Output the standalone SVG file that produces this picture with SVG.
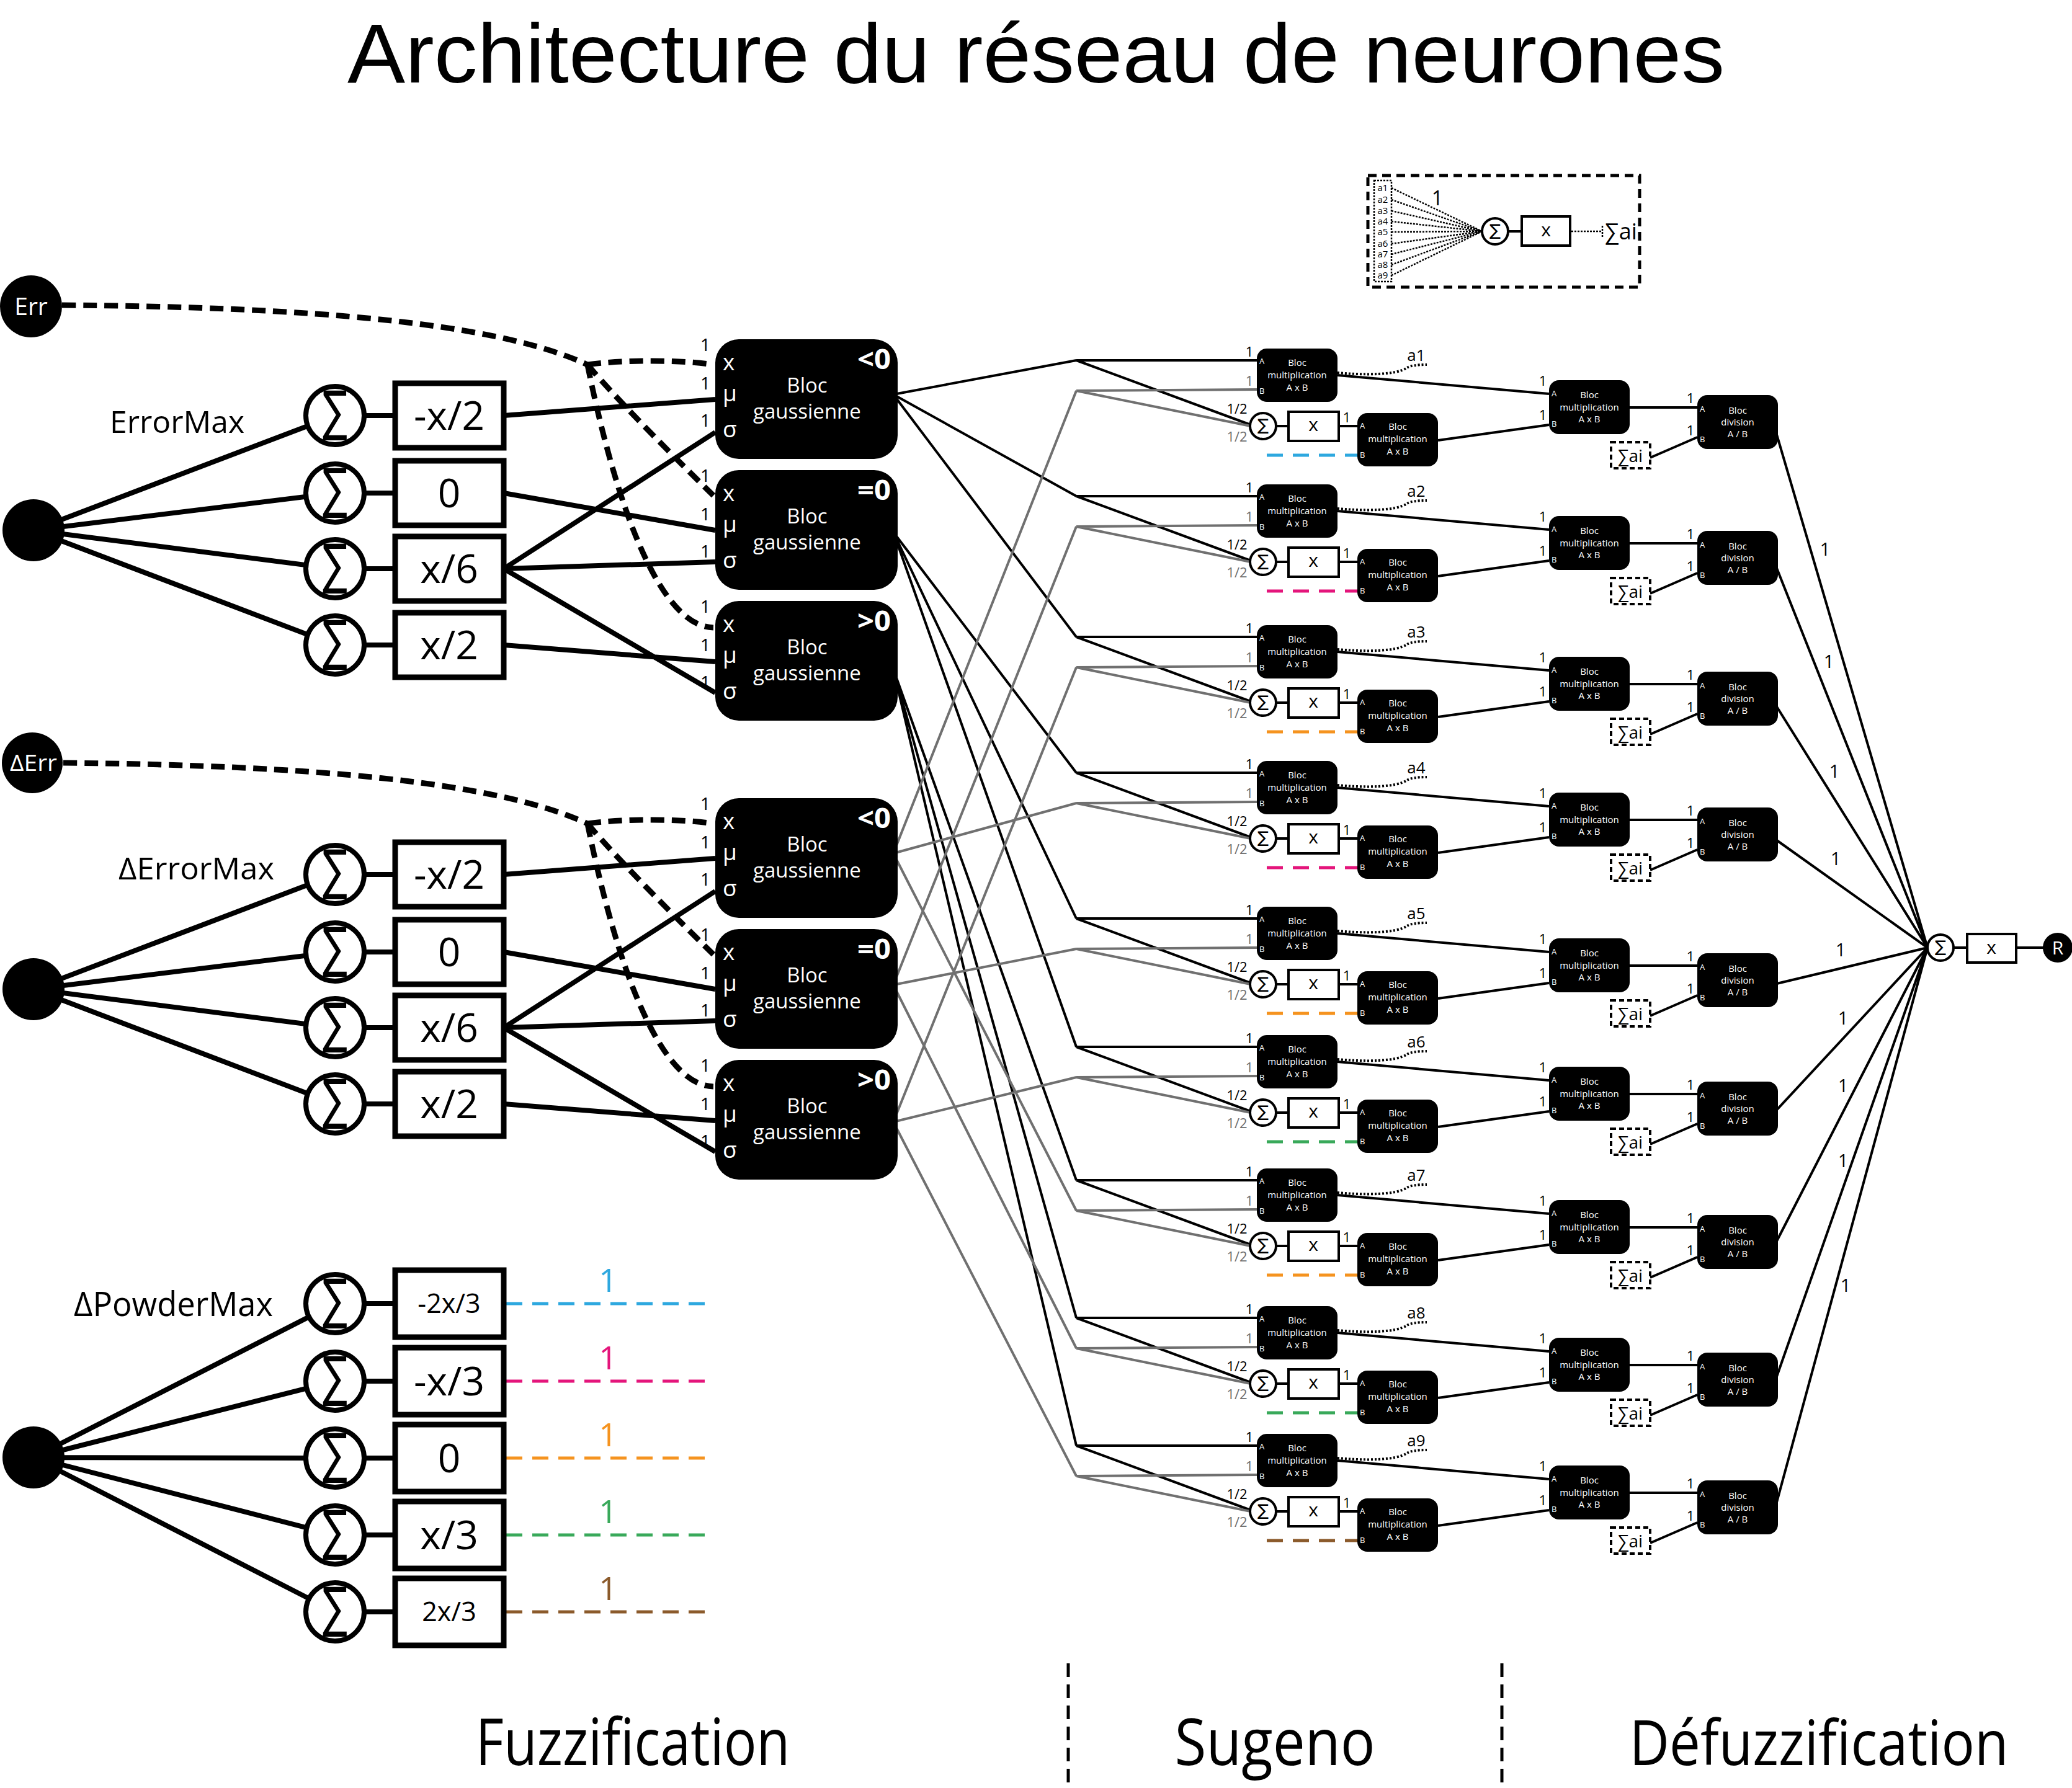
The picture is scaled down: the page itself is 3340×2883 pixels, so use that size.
<svg xmlns="http://www.w3.org/2000/svg" width="3340" height="2883" viewBox="0 0 3340 2883">
<style>
text{font-family:'Open Sans','Liberation Sans','DejaVu Sans',sans-serif;fill:#000}
text.ttl{font-family:'Liberation Sans','Open Sans',sans-serif}
.bs{font-family:'DejaVu Sans',sans-serif;font-size:88px;text-anchor:middle}
.ss2{font-family:'DejaVu Sans',sans-serif;font-size:26px;text-anchor:middle}
.k8{stroke:#000;stroke-width:8;fill:none}
.k4{stroke:#000;stroke-width:4;fill:none}
.g4{stroke:#707070;stroke-width:4;fill:none}
.dsh{stroke:#000;stroke-width:9;fill:none;stroke-dasharray:22 12}
.dot{stroke:#000;stroke-width:4;fill:none;stroke-dasharray:3 3}
.ldot{stroke:#000;stroke-width:2.5;fill:none;stroke-dasharray:3 2}
.cd{stroke-width:5;fill:none;stroke-dasharray:26 16}
.sc{fill:#fff;stroke:#000;stroke-width:8}
.bx{fill:#fff;stroke:#000;stroke-width:9}
.ss{fill:#fff;stroke:#000;stroke-width:4}
.blk{fill:#000}
text.w{fill:#fff}
.bt{font-size:64px;text-anchor:middle}
.gl{font-size:37px}
.gt{font-size:33px;text-anchor:middle}
.gn{font-size:28px;text-anchor:end}
.gs{font-size:44px;font-weight:bold;text-anchor:end}
text.a{font-size:13px;fill:#fff}
text.m{font-size:15px;fill:#fff;text-anchor:middle}
.l{font-size:22px;text-anchor:middle}
text.lg{fill:#707070}
.al{font-size:26px;text-anchor:middle}
.sa{font-size:28px;text-anchor:middle}
.sab{fill:#fff;stroke:#000;stroke-width:4;stroke-dasharray:8 5}
</style>

<text class="ttl" x="1670" y="133" font-size="136" text-anchor="middle" textLength="2220" lengthAdjust="spacingAndGlyphs">Architecture du réseau de neurones</text>

<g id="connectors">
  <!-- section 1 -->
  <path class="k8" d="M54,855L540,670M54,855L540,795M54,855L540,917M54,855L540,1040M587,670H637M587,795H637M587,917H637M587,1040H637"/>
  <path class="k8" d="M812,670L1153,644M812,795L1153,855M812,917L1153,697M812,917L1153,906M812,917L1153,1117M812,1040L1153,1067"/>
  <path class="dsh" d="M100,492C500,495 800,520 947,588M947,588C1000,580 1100,580 1150,588M947,588C1000,650 1080,730 1150,799M947,588C990,800 1060,1010 1150,1012"/>
  <!-- section 2 -->
  <path class="k8" d="M54,1595L540,1410M54,1595L540,1535M54,1595L540,1657M54,1595L540,1780M587,1410H637M587,1535H637M587,1657H637M587,1780H637"/>
  <path class="k8" d="M812,1410L1153,1384M812,1535L1153,1595M812,1657L1153,1437M812,1657L1153,1646M812,1657L1153,1857M812,1780L1153,1807"/>
  <path class="dsh" d="M102,1230C500,1234 800,1260 947,1328M947,1328C1000,1320 1100,1320 1150,1328M947,1328C1000,1390 1080,1470 1150,1539M947,1328C990,1540 1060,1750 1150,1752"/>
  <!-- section 3 -->
  <path class="k8" d="M54,2350L540,2102M54,2350L540,2227M54,2350L540,2351M54,2350L540,2475M54,2350L540,2599M587,2102H637M587,2227H637M587,2351H637M587,2475H637M587,2599H637"/>
  <path class="cd" stroke="#2ea8df" d="M816,2102H1152"/>
  <path class="cd" stroke="#e4157b" d="M816,2227H1152"/>
  <path class="cd" stroke="#f5931f" d="M816,2351H1152"/>
  <path class="cd" stroke="#39a95a" d="M816,2475H1152"/>
  <path class="cd" stroke="#8b5a2b" d="M816,2599H1152"/>
  <text x="980" y="2083" font-size="52" text-anchor="middle" style="fill:#2ea8df">1</text>
  <text x="980" y="2208" font-size="52" text-anchor="middle" style="fill:#e4157b">1</text>
  <text x="980" y="2332" font-size="52" text-anchor="middle" style="fill:#f5931f">1</text>
  <text x="980" y="2456" font-size="52" text-anchor="middle" style="fill:#39a95a">1</text>
  <text x="980" y="2580" font-size="52" text-anchor="middle" style="fill:#8b5a2b">1</text>
  <!-- gaussian -> rules -->
  <path class="k4" d="M1440,636L1735,581M1440,636L1735,800M1440,636L1735,1027M1440,858L1735,1246M1440,858L1735,1481M1440,858L1735,1688M1440,1079L1735,1903M1440,1079L1735,2125M1440,1079L1735,2331"/>
  <path class="g4" d="M1440,1376L1735,630M1440,1376L1735,1295M1440,1376L1735,1952M1440,1588L1735,849M1440,1588L1735,1530M1440,1588L1735,2174M1440,1809L1735,1076M1440,1809L1735,1737M1440,1809L1735,2380"/>
  <!-- rules internal -->
  <g transform="translate(0,581)"><path class="k4" d="M1735,0H2026M1735,0L2016,104M2057,106H2077M2158,106H2188M2156,24L2497,54M2318,129L2497,104M2627,76H2736M2660,157L2736,124"/><path class="g4" d="M1735,49L2026,47M1735,49L2016,106"/><path class="cd" stroke="#2ea8df" d="M2042,153H2188"/><path class="dot" d="M2156,20C2200,24 2250,24 2268,12Q2276,7 2300,7"/></g>
  <g transform="translate(0,800)"><path class="k4" d="M1735,0H2026M1735,0L2016,104M2057,106H2077M2158,106H2188M2156,24L2497,54M2318,129L2497,104M2627,76H2736M2660,157L2736,124"/><path class="g4" d="M1735,49L2026,47M1735,49L2016,106"/><path class="cd" stroke="#e4157b" d="M2042,153H2188"/><path class="dot" d="M2156,20C2200,24 2250,24 2268,12Q2276,7 2300,7"/></g>
  <g transform="translate(0,1027)"><path class="k4" d="M1735,0H2026M1735,0L2016,104M2057,106H2077M2158,106H2188M2156,24L2497,54M2318,129L2497,104M2627,76H2736M2660,157L2736,124"/><path class="g4" d="M1735,49L2026,47M1735,49L2016,106"/><path class="cd" stroke="#f5931f" d="M2042,153H2188"/><path class="dot" d="M2156,20C2200,24 2250,24 2268,12Q2276,7 2300,7"/></g>
  <g transform="translate(0,1246)"><path class="k4" d="M1735,0H2026M1735,0L2016,104M2057,106H2077M2158,106H2188M2156,24L2497,54M2318,129L2497,104M2627,76H2736M2660,157L2736,124"/><path class="g4" d="M1735,49L2026,47M1735,49L2016,106"/><path class="cd" stroke="#e4157b" d="M2042,153H2188"/><path class="dot" d="M2156,20C2200,24 2250,24 2268,12Q2276,7 2300,7"/></g>
  <g transform="translate(0,1481)"><path class="k4" d="M1735,0H2026M1735,0L2016,104M2057,106H2077M2158,106H2188M2156,24L2497,54M2318,129L2497,104M2627,76H2736M2660,157L2736,124"/><path class="g4" d="M1735,49L2026,47M1735,49L2016,106"/><path class="cd" stroke="#f5931f" d="M2042,153H2188"/><path class="dot" d="M2156,20C2200,24 2250,24 2268,12Q2276,7 2300,7"/></g>
  <g transform="translate(0,1688)"><path class="k4" d="M1735,0H2026M1735,0L2016,104M2057,106H2077M2158,106H2188M2156,24L2497,54M2318,129L2497,104M2627,76H2736M2660,157L2736,124"/><path class="g4" d="M1735,49L2026,47M1735,49L2016,106"/><path class="cd" stroke="#39a95a" d="M2042,153H2188"/><path class="dot" d="M2156,20C2200,24 2250,24 2268,12Q2276,7 2300,7"/></g>
  <g transform="translate(0,1903)"><path class="k4" d="M1735,0H2026M1735,0L2016,104M2057,106H2077M2158,106H2188M2156,24L2497,54M2318,129L2497,104M2627,76H2736M2660,157L2736,124"/><path class="g4" d="M1735,49L2026,47M1735,49L2016,106"/><path class="cd" stroke="#f5931f" d="M2042,153H2188"/><path class="dot" d="M2156,20C2200,24 2250,24 2268,12Q2276,7 2300,7"/></g>
  <g transform="translate(0,2125)"><path class="k4" d="M1735,0H2026M1735,0L2016,104M2057,106H2077M2158,106H2188M2156,24L2497,54M2318,129L2497,104M2627,76H2736M2660,157L2736,124"/><path class="g4" d="M1735,49L2026,47M1735,49L2016,106"/><path class="cd" stroke="#39a95a" d="M2042,153H2188"/><path class="dot" d="M2156,20C2200,24 2250,24 2268,12Q2276,7 2300,7"/></g>
  <g transform="translate(0,2331)"><path class="k4" d="M1735,0H2026M1735,0L2016,104M2057,106H2077M2158,106H2188M2156,24L2497,54M2318,129L2497,104M2627,76H2736M2660,157L2736,124"/><path class="g4" d="M1735,49L2026,47M1735,49L2016,106"/><path class="cd" stroke="#8b5a2b" d="M2042,153H2188"/><path class="dot" d="M2156,20C2200,24 2250,24 2268,12Q2276,7 2300,7"/></g>
  <!-- defuzzification -->
  <path class="k4" d="M2860,687L3107,1528M2860,906L3107,1528M2860,1133L3107,1528M2860,1352L3107,1528M2860,1587L3107,1528M2860,1794L3107,1528M2860,2009L3107,1528M2860,2231L3107,1528M2860,2437L3107,1528M3149,1528H3171M3250,1528H3300"/>
  <text x="2942" y="896" font-size="29" text-anchor="middle">1</text>
  <text x="2948" y="1077" font-size="29" text-anchor="middle">1</text>
  <text x="2957" y="1254" font-size="29" text-anchor="middle">1</text>
  <text x="2959" y="1395" font-size="29" text-anchor="middle">1</text>
  <text x="2967" y="1542" font-size="29" text-anchor="middle">1</text>
  <text x="2971" y="1652" font-size="29" text-anchor="middle">1</text>
  <text x="2971" y="1761" font-size="29" text-anchor="middle">1</text>
  <text x="2971" y="1882" font-size="29" text-anchor="middle">1</text>
  <text x="2975" y="2083" font-size="29" text-anchor="middle">1</text>
</g>

<!-- Section 1 nodes -->
<g id="err"><circle class="blk" cx="50" cy="494" r="50"/><text class="w" x="50" y="508" font-size="39" text-anchor="middle">Err</text></g>
<g id="errmax"><circle class="blk" cx="54" cy="855" r="50"/><text x="177" y="698" font-size="50" textLength="217" lengthAdjust="spacingAndGlyphs">ErrorMax</text></g>
<g id="e-sum1"><circle class="sc" cx="540" cy="670" r="47"/><text class="bs" x="540" y="693" textLength="40" lengthAdjust="spacingAndGlyphs">∑</text></g>
<g id="e-sum2"><circle class="sc" cx="540" cy="795" r="47"/><text class="bs" x="540" y="818" textLength="40" lengthAdjust="spacingAndGlyphs">∑</text></g>
<g id="e-sum3"><circle class="sc" cx="540" cy="917" r="47"/><text class="bs" x="540" y="940" textLength="40" lengthAdjust="spacingAndGlyphs">∑</text></g>
<g id="e-sum4"><circle class="sc" cx="540" cy="1040" r="47"/><text class="bs" x="540" y="1063" textLength="40" lengthAdjust="spacingAndGlyphs">∑</text></g>
<g id="e-box1"><rect class="bx" x="637" y="618" width="175" height="104"/><text class="bt" x="724" y="693">-x/2</text></g>
<g id="e-box2"><rect class="bx" x="637" y="743" width="175" height="104"/><text class="bt" x="724" y="818">0</text></g>
<g id="e-box3"><rect class="bx" x="637" y="865" width="175" height="104"/><text class="bt" x="724" y="940">x/6</text></g>
<g id="e-box4"><rect class="bx" x="637" y="988" width="175" height="104"/><text class="bt" x="724" y="1063">x/2</text></g>
<g id="e-g1"><rect class="blk" x="1153" y="547" width="294" height="193" rx="38"/><text class="w gl" x="1165" y="597">x</text><text class="w gl" x="1165" y="647">μ</text><text class="w gl" x="1165" y="705">σ</text><text class="w gt" x="1301" y="633">Bloc</text><text class="w gt" x="1301" y="675">gaussienne</text><text class="w gs" x="1436" y="595" textLength="54" lengthAdjust="spacingAndGlyphs">&lt;0</text><text class="gn" x="1145" y="566">1</text><text class="gn" x="1145" y="628">1</text><text class="gn" x="1145" y="688">1</text></g>
<g id="e-g2"><rect class="blk" x="1153" y="758" width="294" height="193" rx="38"/><text class="w gl" x="1165" y="808">x</text><text class="w gl" x="1165" y="858">μ</text><text class="w gl" x="1165" y="916">σ</text><text class="w gt" x="1301" y="844">Bloc</text><text class="w gt" x="1301" y="886">gaussienne</text><text class="w gs" x="1436" y="806" textLength="54" lengthAdjust="spacingAndGlyphs">=0</text><text class="gn" x="1145" y="777">1</text><text class="gn" x="1145" y="839">1</text><text class="gn" x="1145" y="899">1</text></g>
<g id="e-g3"><rect class="blk" x="1153" y="969" width="294" height="193" rx="38"/><text class="w gl" x="1165" y="1019">x</text><text class="w gl" x="1165" y="1069">μ</text><text class="w gl" x="1165" y="1127">σ</text><text class="w gt" x="1301" y="1055">Bloc</text><text class="w gt" x="1301" y="1097">gaussienne</text><text class="w gs" x="1436" y="1017" textLength="54" lengthAdjust="spacingAndGlyphs">&gt;0</text><text class="gn" x="1145" y="988">1</text><text class="gn" x="1145" y="1050">1</text><text class="gn" x="1145" y="1110">1</text></g>

<!-- Section 2 nodes -->
<g id="derr"><circle class="blk" cx="52" cy="1230" r="49"/><text class="w" x="54" y="1243" font-size="36" text-anchor="middle" textLength="76" lengthAdjust="spacingAndGlyphs">ΔErr</text></g>
<g id="derrmax"><circle class="blk" cx="54" cy="1595" r="50"/><text x="191" y="1418" font-size="50" textLength="251" lengthAdjust="spacingAndGlyphs">ΔErrorMax</text></g>
<g id="d-sum1"><circle class="sc" cx="540" cy="1410" r="47"/><text class="bs" x="540" y="1433" textLength="40" lengthAdjust="spacingAndGlyphs">∑</text></g>
<g id="d-sum2"><circle class="sc" cx="540" cy="1535" r="47"/><text class="bs" x="540" y="1558" textLength="40" lengthAdjust="spacingAndGlyphs">∑</text></g>
<g id="d-sum3"><circle class="sc" cx="540" cy="1657" r="47"/><text class="bs" x="540" y="1680" textLength="40" lengthAdjust="spacingAndGlyphs">∑</text></g>
<g id="d-sum4"><circle class="sc" cx="540" cy="1780" r="47"/><text class="bs" x="540" y="1803" textLength="40" lengthAdjust="spacingAndGlyphs">∑</text></g>
<g id="d-box1"><rect class="bx" x="637" y="1358" width="175" height="104"/><text class="bt" x="724" y="1433">-x/2</text></g>
<g id="d-box2"><rect class="bx" x="637" y="1483" width="175" height="104"/><text class="bt" x="724" y="1558">0</text></g>
<g id="d-box3"><rect class="bx" x="637" y="1605" width="175" height="104"/><text class="bt" x="724" y="1680">x/6</text></g>
<g id="d-box4"><rect class="bx" x="637" y="1728" width="175" height="104"/><text class="bt" x="724" y="1803">x/2</text></g>
<g id="d-g1"><rect class="blk" x="1153" y="1287" width="294" height="193" rx="38"/><text class="w gl" x="1165" y="1337">x</text><text class="w gl" x="1165" y="1387">μ</text><text class="w gl" x="1165" y="1445">σ</text><text class="w gt" x="1301" y="1373">Bloc</text><text class="w gt" x="1301" y="1415">gaussienne</text><text class="w gs" x="1436" y="1335" textLength="54" lengthAdjust="spacingAndGlyphs">&lt;0</text><text class="gn" x="1145" y="1306">1</text><text class="gn" x="1145" y="1368">1</text><text class="gn" x="1145" y="1428">1</text></g>
<g id="d-g2"><rect class="blk" x="1153" y="1498" width="294" height="193" rx="38"/><text class="w gl" x="1165" y="1548">x</text><text class="w gl" x="1165" y="1598">μ</text><text class="w gl" x="1165" y="1656">σ</text><text class="w gt" x="1301" y="1584">Bloc</text><text class="w gt" x="1301" y="1626">gaussienne</text><text class="w gs" x="1436" y="1546" textLength="54" lengthAdjust="spacingAndGlyphs">=0</text><text class="gn" x="1145" y="1517">1</text><text class="gn" x="1145" y="1579">1</text><text class="gn" x="1145" y="1639">1</text></g>
<g id="d-g3"><rect class="blk" x="1153" y="1709" width="294" height="193" rx="38"/><text class="w gl" x="1165" y="1759">x</text><text class="w gl" x="1165" y="1809">μ</text><text class="w gl" x="1165" y="1867">σ</text><text class="w gt" x="1301" y="1795">Bloc</text><text class="w gt" x="1301" y="1837">gaussienne</text><text class="w gs" x="1436" y="1757" textLength="54" lengthAdjust="spacingAndGlyphs">&gt;0</text><text class="gn" x="1145" y="1728">1</text><text class="gn" x="1145" y="1790">1</text><text class="gn" x="1145" y="1850">1</text></g>

<!-- Section 3 nodes -->
<g id="dpowdermax"><circle class="blk" cx="54" cy="2350" r="50"/><text x="119" y="2122" font-size="54" textLength="321" lengthAdjust="spacingAndGlyphs">ΔPowderMax</text></g>
<g id="p-sum1"><circle class="sc" cx="540" cy="2102" r="47"/><text class="bs" x="540" y="2125" textLength="40" lengthAdjust="spacingAndGlyphs">∑</text></g>
<g id="p-sum2"><circle class="sc" cx="540" cy="2227" r="47"/><text class="bs" x="540" y="2250" textLength="40" lengthAdjust="spacingAndGlyphs">∑</text></g>
<g id="p-sum3"><circle class="sc" cx="540" cy="2351" r="47"/><text class="bs" x="540" y="2374" textLength="40" lengthAdjust="spacingAndGlyphs">∑</text></g>
<g id="p-sum4"><circle class="sc" cx="540" cy="2475" r="47"/><text class="bs" x="540" y="2498" textLength="40" lengthAdjust="spacingAndGlyphs">∑</text></g>
<g id="p-sum5"><circle class="sc" cx="540" cy="2599" r="47"/><text class="bs" x="540" y="2622" textLength="40" lengthAdjust="spacingAndGlyphs">∑</text></g>
<g id="p-box1"><rect class="bx" x="637" y="2048" width="175" height="108"/><text x="724" y="2117" font-size="43" text-anchor="middle">-2x/3</text></g>
<g id="p-box2"><rect class="bx" x="637" y="2173" width="175" height="108"/><text class="bt" x="724" y="2250">-x/3</text></g>
<g id="p-box3"><rect class="bx" x="637" y="2297" width="175" height="108"/><text class="bt" x="724" y="2374">0</text></g>
<g id="p-box4"><rect class="bx" x="637" y="2421" width="175" height="108"/><text class="bt" x="724" y="2498">x/3</text></g>
<g id="p-box5"><rect class="bx" x="637" y="2545" width="175" height="108"/><text x="724" y="2614" font-size="43" text-anchor="middle">2x/3</text></g>

<!-- Rules -->
<g id="rule1" transform="translate(0,581)"><rect class="blk" x="2026" y="-19" width="130" height="86" rx="16"/><text class="a" x="2030" y="6">A</text><text class="a" x="2030" y="54">B</text><text class="m" x="2091" y="9">Bloc</text><text class="m" x="2091" y="29">multiplication</text><text class="m" x="2091" y="49">A x B</text><circle class="ss" cx="2036" cy="106" r="21"/><text class="ss2" x="2036" y="113" textLength="18" lengthAdjust="spacingAndGlyphs">∑</text><rect class="ss" x="2077" y="83" width="81" height="47"/><text x="2117" y="114" font-size="30" text-anchor="middle">x</text><rect class="blk" x="2188" y="85" width="130" height="86" rx="16"/><text class="a" x="2192" y="110">A</text><text class="a" x="2192" y="157">B</text><text class="m" x="2253" y="112">Bloc</text><text class="m" x="2253" y="132">multiplication</text><text class="m" x="2253" y="152">A x B</text><rect class="blk" x="2497" y="32" width="130" height="87" rx="16"/><text class="a" x="2501" y="58">A</text><text class="a" x="2501" y="107">B</text><text class="m" x="2562" y="61">Bloc</text><text class="m" x="2562" y="81">multiplication</text><text class="m" x="2562" y="100">A x B</text><rect class="blk" x="2736" y="56" width="130" height="87" rx="16"/><text class="a" x="2740" y="83">A</text><text class="a" x="2740" y="132">B</text><text class="m" x="2801" y="86">Bloc</text><text class="m" x="2801" y="105">division</text><text class="m" x="2801" y="124">A / B</text><rect class="sab" x="2597" y="132" width="63" height="42"/><text class="sa" x="2628" y="164">∑ai</text><text class="al" x="2283" y="1">a1</text><text class="l" x="2014" y="-6">1</text><text class="l lg" x="2014" y="41">1</text><text class="l" x="1994" y="86">1/2</text><text class="l lg" x="1994" y="131">1/2</text><text class="l" x="2171" y="100">1</text><text class="l" x="2487" y="41">1</text><text class="l" x="2487" y="96">1</text><text class="l" x="2725" y="69">1</text><text class="l" x="2725" y="121">1</text></g>
<g id="rule2" transform="translate(0,800)"><rect class="blk" x="2026" y="-19" width="130" height="86" rx="16"/><text class="a" x="2030" y="6">A</text><text class="a" x="2030" y="54">B</text><text class="m" x="2091" y="9">Bloc</text><text class="m" x="2091" y="29">multiplication</text><text class="m" x="2091" y="49">A x B</text><circle class="ss" cx="2036" cy="106" r="21"/><text class="ss2" x="2036" y="113" textLength="18" lengthAdjust="spacingAndGlyphs">∑</text><rect class="ss" x="2077" y="83" width="81" height="47"/><text x="2117" y="114" font-size="30" text-anchor="middle">x</text><rect class="blk" x="2188" y="85" width="130" height="86" rx="16"/><text class="a" x="2192" y="110">A</text><text class="a" x="2192" y="157">B</text><text class="m" x="2253" y="112">Bloc</text><text class="m" x="2253" y="132">multiplication</text><text class="m" x="2253" y="152">A x B</text><rect class="blk" x="2497" y="32" width="130" height="87" rx="16"/><text class="a" x="2501" y="58">A</text><text class="a" x="2501" y="107">B</text><text class="m" x="2562" y="61">Bloc</text><text class="m" x="2562" y="81">multiplication</text><text class="m" x="2562" y="100">A x B</text><rect class="blk" x="2736" y="56" width="130" height="87" rx="16"/><text class="a" x="2740" y="83">A</text><text class="a" x="2740" y="132">B</text><text class="m" x="2801" y="86">Bloc</text><text class="m" x="2801" y="105">division</text><text class="m" x="2801" y="124">A / B</text><rect class="sab" x="2597" y="132" width="63" height="42"/><text class="sa" x="2628" y="164">∑ai</text><text class="al" x="2283" y="1">a2</text><text class="l" x="2014" y="-6">1</text><text class="l lg" x="2014" y="41">1</text><text class="l" x="1994" y="86">1/2</text><text class="l lg" x="1994" y="131">1/2</text><text class="l" x="2171" y="100">1</text><text class="l" x="2487" y="41">1</text><text class="l" x="2487" y="96">1</text><text class="l" x="2725" y="69">1</text><text class="l" x="2725" y="121">1</text></g>
<g id="rule3" transform="translate(0,1027)"><rect class="blk" x="2026" y="-19" width="130" height="86" rx="16"/><text class="a" x="2030" y="6">A</text><text class="a" x="2030" y="54">B</text><text class="m" x="2091" y="9">Bloc</text><text class="m" x="2091" y="29">multiplication</text><text class="m" x="2091" y="49">A x B</text><circle class="ss" cx="2036" cy="106" r="21"/><text class="ss2" x="2036" y="113" textLength="18" lengthAdjust="spacingAndGlyphs">∑</text><rect class="ss" x="2077" y="83" width="81" height="47"/><text x="2117" y="114" font-size="30" text-anchor="middle">x</text><rect class="blk" x="2188" y="85" width="130" height="86" rx="16"/><text class="a" x="2192" y="110">A</text><text class="a" x="2192" y="157">B</text><text class="m" x="2253" y="112">Bloc</text><text class="m" x="2253" y="132">multiplication</text><text class="m" x="2253" y="152">A x B</text><rect class="blk" x="2497" y="32" width="130" height="87" rx="16"/><text class="a" x="2501" y="58">A</text><text class="a" x="2501" y="107">B</text><text class="m" x="2562" y="61">Bloc</text><text class="m" x="2562" y="81">multiplication</text><text class="m" x="2562" y="100">A x B</text><rect class="blk" x="2736" y="56" width="130" height="87" rx="16"/><text class="a" x="2740" y="83">A</text><text class="a" x="2740" y="132">B</text><text class="m" x="2801" y="86">Bloc</text><text class="m" x="2801" y="105">division</text><text class="m" x="2801" y="124">A / B</text><rect class="sab" x="2597" y="132" width="63" height="42"/><text class="sa" x="2628" y="164">∑ai</text><text class="al" x="2283" y="1">a3</text><text class="l" x="2014" y="-6">1</text><text class="l lg" x="2014" y="41">1</text><text class="l" x="1994" y="86">1/2</text><text class="l lg" x="1994" y="131">1/2</text><text class="l" x="2171" y="100">1</text><text class="l" x="2487" y="41">1</text><text class="l" x="2487" y="96">1</text><text class="l" x="2725" y="69">1</text><text class="l" x="2725" y="121">1</text></g>
<g id="rule4" transform="translate(0,1246)"><rect class="blk" x="2026" y="-19" width="130" height="86" rx="16"/><text class="a" x="2030" y="6">A</text><text class="a" x="2030" y="54">B</text><text class="m" x="2091" y="9">Bloc</text><text class="m" x="2091" y="29">multiplication</text><text class="m" x="2091" y="49">A x B</text><circle class="ss" cx="2036" cy="106" r="21"/><text class="ss2" x="2036" y="113" textLength="18" lengthAdjust="spacingAndGlyphs">∑</text><rect class="ss" x="2077" y="83" width="81" height="47"/><text x="2117" y="114" font-size="30" text-anchor="middle">x</text><rect class="blk" x="2188" y="85" width="130" height="86" rx="16"/><text class="a" x="2192" y="110">A</text><text class="a" x="2192" y="157">B</text><text class="m" x="2253" y="112">Bloc</text><text class="m" x="2253" y="132">multiplication</text><text class="m" x="2253" y="152">A x B</text><rect class="blk" x="2497" y="32" width="130" height="87" rx="16"/><text class="a" x="2501" y="58">A</text><text class="a" x="2501" y="107">B</text><text class="m" x="2562" y="61">Bloc</text><text class="m" x="2562" y="81">multiplication</text><text class="m" x="2562" y="100">A x B</text><rect class="blk" x="2736" y="56" width="130" height="87" rx="16"/><text class="a" x="2740" y="83">A</text><text class="a" x="2740" y="132">B</text><text class="m" x="2801" y="86">Bloc</text><text class="m" x="2801" y="105">division</text><text class="m" x="2801" y="124">A / B</text><rect class="sab" x="2597" y="132" width="63" height="42"/><text class="sa" x="2628" y="164">∑ai</text><text class="al" x="2283" y="1">a4</text><text class="l" x="2014" y="-6">1</text><text class="l lg" x="2014" y="41">1</text><text class="l" x="1994" y="86">1/2</text><text class="l lg" x="1994" y="131">1/2</text><text class="l" x="2171" y="100">1</text><text class="l" x="2487" y="41">1</text><text class="l" x="2487" y="96">1</text><text class="l" x="2725" y="69">1</text><text class="l" x="2725" y="121">1</text></g>
<g id="rule5" transform="translate(0,1481)"><rect class="blk" x="2026" y="-19" width="130" height="86" rx="16"/><text class="a" x="2030" y="6">A</text><text class="a" x="2030" y="54">B</text><text class="m" x="2091" y="9">Bloc</text><text class="m" x="2091" y="29">multiplication</text><text class="m" x="2091" y="49">A x B</text><circle class="ss" cx="2036" cy="106" r="21"/><text class="ss2" x="2036" y="113" textLength="18" lengthAdjust="spacingAndGlyphs">∑</text><rect class="ss" x="2077" y="83" width="81" height="47"/><text x="2117" y="114" font-size="30" text-anchor="middle">x</text><rect class="blk" x="2188" y="85" width="130" height="86" rx="16"/><text class="a" x="2192" y="110">A</text><text class="a" x="2192" y="157">B</text><text class="m" x="2253" y="112">Bloc</text><text class="m" x="2253" y="132">multiplication</text><text class="m" x="2253" y="152">A x B</text><rect class="blk" x="2497" y="32" width="130" height="87" rx="16"/><text class="a" x="2501" y="58">A</text><text class="a" x="2501" y="107">B</text><text class="m" x="2562" y="61">Bloc</text><text class="m" x="2562" y="81">multiplication</text><text class="m" x="2562" y="100">A x B</text><rect class="blk" x="2736" y="56" width="130" height="87" rx="16"/><text class="a" x="2740" y="83">A</text><text class="a" x="2740" y="132">B</text><text class="m" x="2801" y="86">Bloc</text><text class="m" x="2801" y="105">division</text><text class="m" x="2801" y="124">A / B</text><rect class="sab" x="2597" y="132" width="63" height="42"/><text class="sa" x="2628" y="164">∑ai</text><text class="al" x="2283" y="1">a5</text><text class="l" x="2014" y="-6">1</text><text class="l lg" x="2014" y="41">1</text><text class="l" x="1994" y="86">1/2</text><text class="l lg" x="1994" y="131">1/2</text><text class="l" x="2171" y="100">1</text><text class="l" x="2487" y="41">1</text><text class="l" x="2487" y="96">1</text><text class="l" x="2725" y="69">1</text><text class="l" x="2725" y="121">1</text></g>
<g id="rule6" transform="translate(0,1688)"><rect class="blk" x="2026" y="-19" width="130" height="86" rx="16"/><text class="a" x="2030" y="6">A</text><text class="a" x="2030" y="54">B</text><text class="m" x="2091" y="9">Bloc</text><text class="m" x="2091" y="29">multiplication</text><text class="m" x="2091" y="49">A x B</text><circle class="ss" cx="2036" cy="106" r="21"/><text class="ss2" x="2036" y="113" textLength="18" lengthAdjust="spacingAndGlyphs">∑</text><rect class="ss" x="2077" y="83" width="81" height="47"/><text x="2117" y="114" font-size="30" text-anchor="middle">x</text><rect class="blk" x="2188" y="85" width="130" height="86" rx="16"/><text class="a" x="2192" y="110">A</text><text class="a" x="2192" y="157">B</text><text class="m" x="2253" y="112">Bloc</text><text class="m" x="2253" y="132">multiplication</text><text class="m" x="2253" y="152">A x B</text><rect class="blk" x="2497" y="32" width="130" height="87" rx="16"/><text class="a" x="2501" y="58">A</text><text class="a" x="2501" y="107">B</text><text class="m" x="2562" y="61">Bloc</text><text class="m" x="2562" y="81">multiplication</text><text class="m" x="2562" y="100">A x B</text><rect class="blk" x="2736" y="56" width="130" height="87" rx="16"/><text class="a" x="2740" y="83">A</text><text class="a" x="2740" y="132">B</text><text class="m" x="2801" y="86">Bloc</text><text class="m" x="2801" y="105">division</text><text class="m" x="2801" y="124">A / B</text><rect class="sab" x="2597" y="132" width="63" height="42"/><text class="sa" x="2628" y="164">∑ai</text><text class="al" x="2283" y="1">a6</text><text class="l" x="2014" y="-6">1</text><text class="l lg" x="2014" y="41">1</text><text class="l" x="1994" y="86">1/2</text><text class="l lg" x="1994" y="131">1/2</text><text class="l" x="2171" y="100">1</text><text class="l" x="2487" y="41">1</text><text class="l" x="2487" y="96">1</text><text class="l" x="2725" y="69">1</text><text class="l" x="2725" y="121">1</text></g>
<g id="rule7" transform="translate(0,1903)"><rect class="blk" x="2026" y="-19" width="130" height="86" rx="16"/><text class="a" x="2030" y="6">A</text><text class="a" x="2030" y="54">B</text><text class="m" x="2091" y="9">Bloc</text><text class="m" x="2091" y="29">multiplication</text><text class="m" x="2091" y="49">A x B</text><circle class="ss" cx="2036" cy="106" r="21"/><text class="ss2" x="2036" y="113" textLength="18" lengthAdjust="spacingAndGlyphs">∑</text><rect class="ss" x="2077" y="83" width="81" height="47"/><text x="2117" y="114" font-size="30" text-anchor="middle">x</text><rect class="blk" x="2188" y="85" width="130" height="86" rx="16"/><text class="a" x="2192" y="110">A</text><text class="a" x="2192" y="157">B</text><text class="m" x="2253" y="112">Bloc</text><text class="m" x="2253" y="132">multiplication</text><text class="m" x="2253" y="152">A x B</text><rect class="blk" x="2497" y="32" width="130" height="87" rx="16"/><text class="a" x="2501" y="58">A</text><text class="a" x="2501" y="107">B</text><text class="m" x="2562" y="61">Bloc</text><text class="m" x="2562" y="81">multiplication</text><text class="m" x="2562" y="100">A x B</text><rect class="blk" x="2736" y="56" width="130" height="87" rx="16"/><text class="a" x="2740" y="83">A</text><text class="a" x="2740" y="132">B</text><text class="m" x="2801" y="86">Bloc</text><text class="m" x="2801" y="105">division</text><text class="m" x="2801" y="124">A / B</text><rect class="sab" x="2597" y="132" width="63" height="42"/><text class="sa" x="2628" y="164">∑ai</text><text class="al" x="2283" y="1">a7</text><text class="l" x="2014" y="-6">1</text><text class="l lg" x="2014" y="41">1</text><text class="l" x="1994" y="86">1/2</text><text class="l lg" x="1994" y="131">1/2</text><text class="l" x="2171" y="100">1</text><text class="l" x="2487" y="41">1</text><text class="l" x="2487" y="96">1</text><text class="l" x="2725" y="69">1</text><text class="l" x="2725" y="121">1</text></g>
<g id="rule8" transform="translate(0,2125)"><rect class="blk" x="2026" y="-19" width="130" height="86" rx="16"/><text class="a" x="2030" y="6">A</text><text class="a" x="2030" y="54">B</text><text class="m" x="2091" y="9">Bloc</text><text class="m" x="2091" y="29">multiplication</text><text class="m" x="2091" y="49">A x B</text><circle class="ss" cx="2036" cy="106" r="21"/><text class="ss2" x="2036" y="113" textLength="18" lengthAdjust="spacingAndGlyphs">∑</text><rect class="ss" x="2077" y="83" width="81" height="47"/><text x="2117" y="114" font-size="30" text-anchor="middle">x</text><rect class="blk" x="2188" y="85" width="130" height="86" rx="16"/><text class="a" x="2192" y="110">A</text><text class="a" x="2192" y="157">B</text><text class="m" x="2253" y="112">Bloc</text><text class="m" x="2253" y="132">multiplication</text><text class="m" x="2253" y="152">A x B</text><rect class="blk" x="2497" y="32" width="130" height="87" rx="16"/><text class="a" x="2501" y="58">A</text><text class="a" x="2501" y="107">B</text><text class="m" x="2562" y="61">Bloc</text><text class="m" x="2562" y="81">multiplication</text><text class="m" x="2562" y="100">A x B</text><rect class="blk" x="2736" y="56" width="130" height="87" rx="16"/><text class="a" x="2740" y="83">A</text><text class="a" x="2740" y="132">B</text><text class="m" x="2801" y="86">Bloc</text><text class="m" x="2801" y="105">division</text><text class="m" x="2801" y="124">A / B</text><rect class="sab" x="2597" y="132" width="63" height="42"/><text class="sa" x="2628" y="164">∑ai</text><text class="al" x="2283" y="1">a8</text><text class="l" x="2014" y="-6">1</text><text class="l lg" x="2014" y="41">1</text><text class="l" x="1994" y="86">1/2</text><text class="l lg" x="1994" y="131">1/2</text><text class="l" x="2171" y="100">1</text><text class="l" x="2487" y="41">1</text><text class="l" x="2487" y="96">1</text><text class="l" x="2725" y="69">1</text><text class="l" x="2725" y="121">1</text></g>
<g id="rule9" transform="translate(0,2331)"><rect class="blk" x="2026" y="-19" width="130" height="86" rx="16"/><text class="a" x="2030" y="6">A</text><text class="a" x="2030" y="54">B</text><text class="m" x="2091" y="9">Bloc</text><text class="m" x="2091" y="29">multiplication</text><text class="m" x="2091" y="49">A x B</text><circle class="ss" cx="2036" cy="106" r="21"/><text class="ss2" x="2036" y="113" textLength="18" lengthAdjust="spacingAndGlyphs">∑</text><rect class="ss" x="2077" y="83" width="81" height="47"/><text x="2117" y="114" font-size="30" text-anchor="middle">x</text><rect class="blk" x="2188" y="85" width="130" height="86" rx="16"/><text class="a" x="2192" y="110">A</text><text class="a" x="2192" y="157">B</text><text class="m" x="2253" y="112">Bloc</text><text class="m" x="2253" y="132">multiplication</text><text class="m" x="2253" y="152">A x B</text><rect class="blk" x="2497" y="32" width="130" height="87" rx="16"/><text class="a" x="2501" y="58">A</text><text class="a" x="2501" y="107">B</text><text class="m" x="2562" y="61">Bloc</text><text class="m" x="2562" y="81">multiplication</text><text class="m" x="2562" y="100">A x B</text><rect class="blk" x="2736" y="56" width="130" height="87" rx="16"/><text class="a" x="2740" y="83">A</text><text class="a" x="2740" y="132">B</text><text class="m" x="2801" y="86">Bloc</text><text class="m" x="2801" y="105">division</text><text class="m" x="2801" y="124">A / B</text><rect class="sab" x="2597" y="132" width="63" height="42"/><text class="sa" x="2628" y="164">∑ai</text><text class="al" x="2283" y="1">a9</text><text class="l" x="2014" y="-6">1</text><text class="l lg" x="2014" y="41">1</text><text class="l" x="1994" y="86">1/2</text><text class="l lg" x="1994" y="131">1/2</text><text class="l" x="2171" y="100">1</text><text class="l" x="2487" y="41">1</text><text class="l" x="2487" y="96">1</text><text class="l" x="2725" y="69">1</text><text class="l" x="2725" y="121">1</text></g>

<!-- Output -->
<g id="final-sum"><circle class="ss" cx="3128" cy="1528" r="21"/><text class="ss2" x="3128" y="1535" textLength="18" lengthAdjust="spacingAndGlyphs">∑</text></g>
<g id="final-box"><rect class="ss" x="3171" y="1506" width="79" height="46"/><text x="3210" y="1538" font-size="30" text-anchor="middle">x</text></g>
<g id="R"><circle class="blk" cx="3317" cy="1528" r="24"/><text class="w" x="3317" y="1539" font-size="30" text-anchor="middle">R</text></g>

<!-- Legend -->
<g id="legend">
  <rect x="2205" y="283" width="438" height="180" fill="none" stroke="#000" stroke-width="5" stroke-dasharray="14 9"/>
  <rect x="2215" y="291" width="28" height="163" fill="none" stroke="#000" stroke-width="2.5" stroke-dasharray="3 2"/>
  <text x="2229" y="308" font-size="15" text-anchor="middle">a1</text>
  <text x="2229" y="327" font-size="15" text-anchor="middle">a2</text>
  <text x="2229" y="345" font-size="15" text-anchor="middle">a3</text>
  <text x="2229" y="362" font-size="15" text-anchor="middle">a4</text>
  <text x="2229" y="379" font-size="15" text-anchor="middle">a5</text>
  <text x="2229" y="398" font-size="15" text-anchor="middle">a6</text>
  <text x="2229" y="415" font-size="15" text-anchor="middle">a7</text>
  <text x="2229" y="432" font-size="15" text-anchor="middle">a8</text>
  <text x="2229" y="449" font-size="15" text-anchor="middle">a9</text>
  <path class="ldot" d="M2243,303L2389,373M2243,322L2389,373M2243,340L2389,373M2243,357L2389,373M2243,374L2389,373M2243,393L2389,373M2243,410L2389,373M2243,427L2389,373M2243,444L2389,373M2533,373H2583M2583,364V382"/>
  <path class="k4" d="M2431,373H2453"/>
  <circle class="ss" cx="2410" cy="373" r="21"/><text class="ss2" x="2410" y="380" textLength="18" lengthAdjust="spacingAndGlyphs">∑</text>
  <rect class="ss" x="2453" y="349" width="78" height="47"/><text x="2492" y="381" font-size="30" text-anchor="middle">x</text>
  <text x="2587" y="386" font-size="36">∑ai</text>
  <text x="2317" y="331" font-size="32" text-anchor="middle">1</text>
</g>

<!-- Section labels -->
<path d="M1722,2682V2880M2421,2682V2880" stroke="#000" stroke-width="5" stroke-dasharray="22 12" fill="none"/>
<text x="1020" y="2846" font-size="104" text-anchor="middle" textLength="507" lengthAdjust="spacingAndGlyphs">Fuzzification</text>
<text x="2055" y="2846" font-size="104" text-anchor="middle" textLength="323" lengthAdjust="spacingAndGlyphs">Sugeno</text>
<text x="2932" y="2846" font-size="100" text-anchor="middle" textLength="611" lengthAdjust="spacingAndGlyphs">Défuzzification</text>
</svg>
